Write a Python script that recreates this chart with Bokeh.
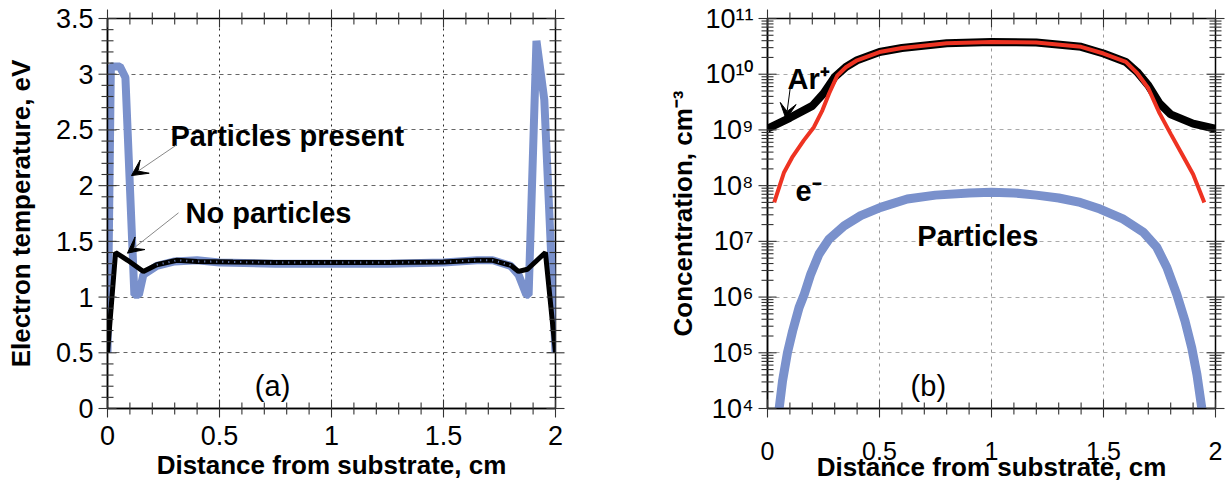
import math
from bokeh.plotting import figure
from bokeh.models import Range1d, FixedTicker, CustomJSTickFormatter, Label, Arrow, VeeHead
from bokeh.layouts import row
from bokeh.embed import file_html
from bokeh.resources import INLINE

# ---------------- data: panel (a) electron temperature ----------------
x_te_particles = [0.0, 0.015, 0.055, 0.08, 0.12, 0.14, 0.16, 0.22, 0.3, 0.4, 0.5, 0.75, 1.0,
                  1.25, 1.5, 1.65, 1.72, 1.8, 1.835, 1.87, 1.88, 1.915, 1.95, 2.0]
te_particles = [0.5, 3.07, 3.07, 2.97, 1.02, 1.02, 1.2, 1.28, 1.32, 1.33, 1.31, 1.30, 1.30,
                1.30, 1.31, 1.33, 1.33, 1.28, 1.2, 1.02, 1.02, 3.3, 2.77, 0.5]

x_te_none = [0.0, 0.036, 0.09, 0.16, 0.22, 0.31, 0.4, 0.56, 0.75, 1.0, 1.25, 1.5, 1.65,
             1.72, 1.8, 1.835, 1.875, 1.955, 2.0]
te_none = [0.5, 1.40, 1.33, 1.23, 1.29, 1.33, 1.32, 1.315, 1.31, 1.31, 1.31, 1.315, 1.33,
           1.33, 1.285, 1.23, 1.25, 1.40, 0.5]

xticks_a = [0, 0.5, 1, 1.5, 2]
yticks_a = [0, 0.5, 1, 1.5, 2, 2.5, 3, 3.5]

# ---------------- data: panel (b) concentrations ----------------
x_ar = [0.0, 0.1, 0.2, 0.25, 0.3, 0.35, 0.4, 0.5, 0.6, 0.8, 1.0, 1.2, 1.4, 1.5, 1.6,
        1.65, 1.7, 1.75, 1.8, 1.9, 2.0]
n_ar = [1.05e9, 1.65e9, 2.7e9, 4.5e9, 8.9e9, 1.35e10, 1.78e10, 2.5e10, 2.95e10, 3.6e10,
        3.8e10, 3.7e10, 3.1e10, 2.35e10, 1.66e10, 1.1e10, 6.3e9, 3.0e9, 1.9e9, 1.3e9, 1.05e9]

x_e = [0.03, 0.073, 0.11, 0.162, 0.207, 0.245, 0.275, 0.312, 0.35, 0.4, 0.5, 0.6, 0.8,
       1.0, 1.2, 1.4, 1.5, 1.6, 1.65, 1.7, 1.75, 1.8, 1.85, 1.9, 1.95]
n_e = [5.0e7, 1.7e8, 3.2e8, 6.5e8, 1.12e9, 2.25e9, 4.5e9, 9.5e9, 1.33e10, 1.78e10, 2.5e10,
       2.95e10, 3.6e10, 3.8e10, 3.7e10, 3.1e10, 2.35e10, 1.66e10, 1.05e10, 5.6e9, 2.0e9,
       8.5e8, 3.7e8, 1.6e8, 5.0e7]

x_p = [0.052, 0.067, 0.089, 0.112, 0.141, 0.164, 0.193, 0.230, 0.275, 0.342, 0.416, 0.505,
       0.624, 0.75, 0.9, 1.0, 1.1, 1.2, 1.3, 1.396, 1.485, 1.589, 1.678, 1.738, 1.783, 1.827,
       1.864, 1.894, 1.917, 1.939]
n_p = [1.0e4, 3.1e4, 1.0e5, 2.45e5, 6.5e5, 1.12e6, 2.57e6, 5.9e6, 1.1e7, 1.9e7, 2.9e7, 4.07e7,
       5.75e7, 6.76e7, 7.4e7, 7.6e7, 7.4e7, 6.76e7, 6.0e7, 5.0e7, 3.8e7, 2.5e7, 1.45e7, 7.8e6,
       3.4e6, 1.12e6, 3.7e5, 1.23e5, 4.1e4, 1.0e4]

xticks_b = [0, 0.5, 1, 1.5, 2]
yticks_b = [1e4, 1e5, 1e6, 1e7, 1e8, 1e9, 1e10, 1e11]

x_title = "Distance from substrate, cm"

BLUE = "#7A91CC"
RED = "#EE3322"
FONT = "Liberation Sans"
TICK_SIZE = "27px"
LABEL_SIZE = "26px"
MAJ, MIN = 9, 6          # inward tick lengths, px

minor_x = [round(i * 0.1, 3) for i in range(21) if i % 5]
minor_y_a = [round(i * 0.1, 3) for i in range(36) if i % 5]
minor_y_b = [m * 10 ** e for e in range(4, 11) for m in range(2, 10)]

num_fmt = CustomJSTickFormatter(code="return (Math.round(tick*10)/10).toString();")
log_fmt = CustomJSTickFormatter(code="""
const sup = {'0':'\u2070','1':'\u00b9','2':'\u00b2','3':'\u00b3','4':'\u2074','5':'\u2075',
             '6':'\u2076','7':'\u2077','8':'\u2078','9':'\u2079','-':'\u207b'};
const e = Math.round(Math.log10(tick));
return '10' + String(e).split('').map(c => sup[c]).join('');
""")


def style_axis(ax, standoff):
    ax.major_tick_in = 0
    ax.major_tick_out = 0
    ax.minor_tick_in = 0
    ax.minor_tick_out = 0
    ax.axis_line_color = "black"
    ax.axis_line_width = 1.5
    ax.major_label_text_font = FONT
    ax.major_label_text_font_size = TICK_SIZE
    ax.major_label_text_color = "black"
    ax.major_label_standoff = standoff
    ax.axis_label_text_font = FONT
    ax.axis_label_text_font_size = LABEL_SIZE
    ax.axis_label_text_font_style = "bold"
    ax.axis_label_text_color = "black"


def inward_ticks(p, xs_maj, xs_min, ys_maj, ys_min, x0, x1, y0, y1):
    """Inward ticks on all four frame sides: dash markers centred on the frame edge,
    the outer half is clipped away by the frame."""
    for xs, L in ((xs_maj, MAJ), (xs_min, MIN)):
        n = len(xs)
        p.scatter(x=list(xs) * 2, y=[y0] * n + [y1] * n, marker="dash", angle=math.pi / 2,
                  size=2 * L, line_color="#333333", line_width=1.1, level="overlay")
    for ys, L in ((ys_maj, MAJ), (ys_min, MIN)):
        n = len(ys)
        p.scatter(x=[x0] * n + [x1] * n, y=list(ys) * 2, marker="dash",
                  size=2 * L, line_color="#333333", line_width=1.1, level="overlay")


# ---------------- panel (a) ----------------
p1 = figure(width=608, height=484, x_range=Range1d(0, 2), y_range=Range1d(0, 3.5),
            output_backend="svg", toolbar_location=None,
            min_border_left=107, min_border_right=53, min_border_top=18, min_border_bottom=74)
p1.outline_line_color = "black"
p1.outline_line_width = 1.5

tx_a = FixedTicker(ticks=xticks_a)
ty_a = FixedTicker(ticks=yticks_a)
p1.xaxis.ticker = tx_a
p1.yaxis.ticker = ty_a
p1.xaxis.formatter = num_fmt
p1.yaxis.formatter = num_fmt
style_axis(p1.xaxis[0], 17)
style_axis(p1.yaxis[0], 14)
p1.xaxis.axis_label = x_title
p1.xaxis.axis_label_standoff = 2
p1.xaxis.major_label_text_line_height = 0.7
p1.xaxis.axis_label_text_line_height = 0.7
p1.yaxis.axis_label = "Electron temperature, eV"
p1.yaxis.axis_label_standoff = 17

p1.xgrid.ticker = tx_a
p1.ygrid.ticker = ty_a
p1.xgrid.grid_line_color = "black"
p1.xgrid.grid_line_dash = "2 4"
p1.xgrid.grid_line_alpha = 0.85
p1.ygrid.grid_line_color = "#555555"
p1.ygrid.grid_line_dash = "4 4"
p1.ygrid.grid_line_alpha = 0.9

p1.line(x_te_particles, te_particles, line_color=BLUE, line_width=8)
p1.line(x_te_none, te_none, line_color="black", line_width=5)
p1.line(x_te_none[4:-4], te_none[4:-4], line_color=BLUE, line_width=2, line_dash="1 5")

inward_ticks(p1, xticks_a, minor_x, yticks_a, minor_y_a, 0, 2, 0, 3.5)

lab = dict(text_font=FONT, text_font_size="29px", text_color="black",
           text_baseline="alphabetic")
p1.add_layout(Label(x=0.281, y=2.447, text="Particles present", text_font_style="bold", **lab))
p1.add_layout(Label(x=0.348, y=1.756, text="No particles", text_font_style="bold", **lab))
p1.add_layout(Label(x=0.737, y=0.20, text="(a)", text_align="center", **lab))
p1.add_layout(Arrow(end=VeeHead(size=16, fill_color="black", line_color="black"),
                    x_start=0.308, y_start=2.365, x_end=0.107, y_end=2.09,
                    line_color="#888888", line_width=1))
p1.add_layout(Arrow(end=VeeHead(size=16, fill_color="black", line_color="black"),
                    x_start=0.317, y_start=1.756, x_end=0.089, y_end=1.394,
                    line_color="#888888", line_width=1))

# ---------------- panel (b) ----------------
p2 = figure(width=620, height=484, x_range=Range1d(0, 2), y_range=Range1d(1e4, 1e11),
            y_axis_type="log", output_backend="svg", toolbar_location=None,
            min_border_left=159, min_border_right=13, min_border_top=18, min_border_bottom=74)
p2.outline_line_color = "black"
p2.outline_line_width = 1.5

tx_b = FixedTicker(ticks=xticks_b)
ty_b = FixedTicker(ticks=yticks_b)
p2.xaxis.ticker = tx_b
p2.yaxis.ticker = ty_b
p2.xaxis.formatter = num_fmt
p2.yaxis.formatter = log_fmt
style_axis(p2.xaxis[0], 33)
style_axis(p2.yaxis[0], 14)
p2.xaxis.major_label_text_font_size = "25px"
p2.xaxis.axis_label = x_title
p2.xaxis.axis_label_standoff = -11
p2.xaxis.major_label_text_line_height = 0.7
p2.xaxis.axis_label_text_line_height = 0.7
p2.yaxis.axis_label = "Concentration, cm\u207b\u00b3"
p2.yaxis.axis_label_standoff = 4

p2.xgrid.ticker = tx_b
p2.ygrid.ticker = ty_b
p2.xgrid.grid_line_color = "#999999"
p2.xgrid.grid_line_dash = "3 4"
p2.ygrid.grid_line_color = "#aaaaaa"
p2.ygrid.grid_line_dash = "4 4"

p2.line(x_p, n_p, line_color=BLUE, line_width=9)
p2.line(x_ar, n_ar, line_color="black", line_width=8)
p2.line(x_e, n_e, line_color=RED, line_width=4)

inward_ticks(p2, xticks_b, minor_x, yticks_b, minor_y_b, 0, 2, 1e4, 1e11)

p2.add_layout(Label(x=0.089, y=10 ** 9.92, text="Ar\u207a", text_font_style="bold", **lab))
p2.add_layout(Label(x=0.125, y=10 ** 7.91, text="e\u207b", text_font_style="bold", **lab))
p2.add_layout(Label(x=0.669, y=10 ** 7.10, text="Particles", text_font_style="bold", **lab))
p2.add_layout(Label(x=0.718, y=10 ** 4.40, text="(b)", text_align="center", **lab))
p2.add_layout(Arrow(end=VeeHead(size=16, fill_color="black", line_color="black"),
                    x_start=0.103, y_start=10 ** 9.80, x_end=0.083, y_end=10 ** 9.19,
                    line_color="black", line_width=1))

layout = row(p1, p2)
open("out.html", "w").write(file_html(layout, INLINE))
